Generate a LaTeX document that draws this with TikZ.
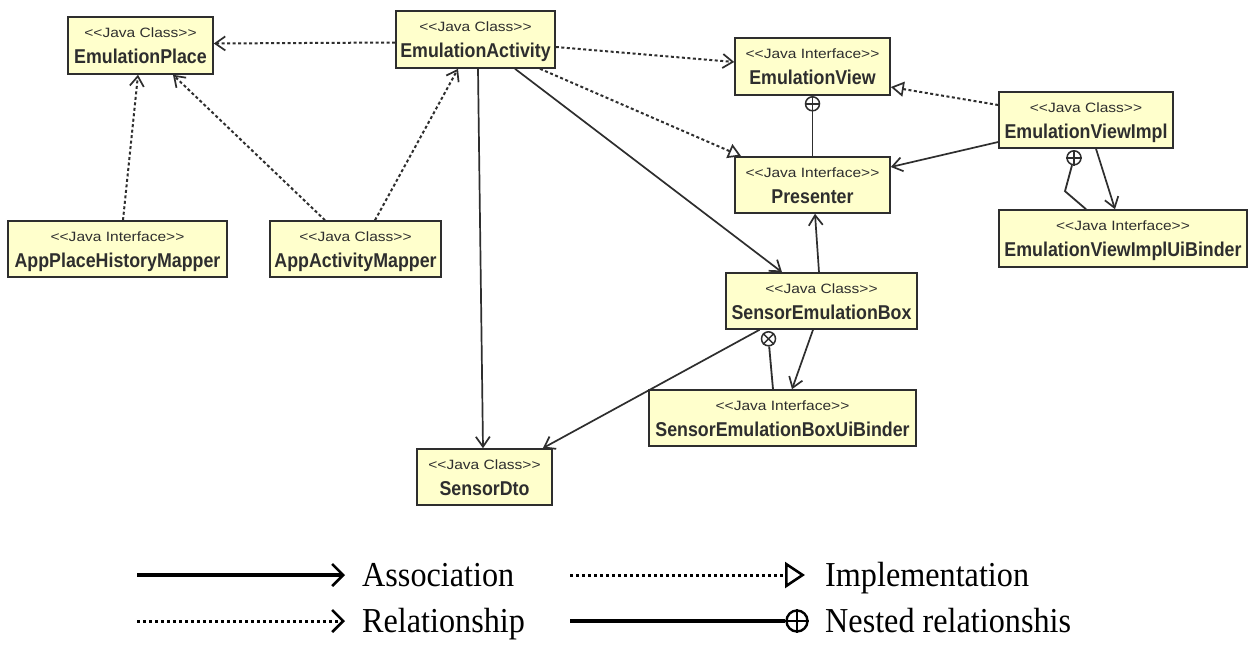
\documentclass[tikz,border=0pt]{standalone}
\usepackage{fontspec}
\setmainfont{Liberation Serif}
\newfontfamily\namefont{Liberation Sans}[FakeStretch=0.89]
\newfontfamily\stfont{Liberation Sans}[FakeStretch=1.15,Ligatures=TeXOff]
\newfontfamily\legfont{Liberation Serif}[FakeStretch=0.92]
\usetikzlibrary{arrows.meta,calc,fit}
\definecolor{boxfill}{HTML}{FFFFCC}
\definecolor{ink}{HTML}{2E2E2E}
\newcommand\umlnode[7]{%
  \path (#2,#3) coordinate (#1-a) (#4,#5) coordinate (#1-b);
  \node[umlbox, fit=(#1-a)(#1-b)] (#1) {};
  \node[stereo, anchor=base] (#1-s) at ($(#1.north)+(0,21)$) {#6};
  \node[title, anchor=base] (#1-t) at ($(#1.north)+(0,47)$) {#7};}
\begin{document}
\begin{tikzpicture}[x=1pt,y=-1pt,
  umlbox/.style={draw=ink, line width=1.6pt, fill=boxfill, inner sep=0pt},
  stereo/.style={font=\stfont\fontsize{13.5pt}{15pt}\selectfont, text=ink, inner sep=0pt},
  title/.style={font=\namefont\bfseries\fontsize{20pt}{22pt}\selectfont, text=ink, inner sep=0pt},
  assoc/.style={draw=ink, line width=1.7pt, -{Straight Barb[length=10pt,width=14pt]}},
  rel/.style={draw=ink, line width=2pt, dash pattern=on 3pt off 2.5pt, -{Straight Barb[length=10pt,width=14pt,line width=1.7pt]}},
  impl/.style={draw=ink, line width=2pt, dash pattern=on 3pt off 2.5pt, -{Triangle[open,length=13pt,width=15pt,fill=white,line width=1.7pt]}},
  nestline/.style={draw=ink, line width=1.8pt},
  nestsym/.style={circle, draw=ink, line width=1.5pt, fill=white, minimum size=14pt, inner sep=0pt},
  legtext/.style={font=\legfont\fontsize{35pt}{38pt}\selectfont, inner sep=0pt, anchor=base west},
  legassoc/.style={draw=black, line width=3.2pt, -{Straight Barb[length=11pt,width=22pt,line width=2.6pt]}},
  legrel/.style={draw=black, line width=3pt, dash pattern=on 3pt off 3pt, -{Straight Barb[length=11pt,width=22pt,line width=2.6pt]}},
  legimpl/.style={draw=black, line width=3pt, dash pattern=on 3pt off 3pt, -{Triangle[open,length=20pt,width=26pt,fill=white,line width=2.6pt]}},
  legnest/.style={draw=black, line width=3.2pt},
  legsym/.style={circle, draw=black, line width=2.4pt, fill=white, minimum size=21pt, inner sep=0pt}]
\useasboundingbox[fill=white] (0,0) rectangle (1256,664);

% classes
\umlnode{EP}{68}{17}{213}{74}{<<Java Class>>}{EmulationPlace}
\umlnode{EA}{396}{11}{555}{68}{<<Java Class>>}{EmulationActivity}
\umlnode{EV}{735}{38}{890}{95}{<<Java Interface>>}{EmulationView}
\umlnode{PR}{735}{157}{890}{213}{<<Java Interface>>}{Presenter}
\umlnode{EVI}{999}{92}{1173}{148}{<<Java Class>>}{EmulationViewImpl}
\umlnode{EVB}{999}{210}{1247}{267}{<<Java Interface>>}{EmulationViewImplUiBinder}
\umlnode{APH}{8}{221}{227}{277}{<<Java Interface>>}{AppPlaceHistoryMapper}
\umlnode{AAM}{270}{221}{441}{277}{<<Java Class>>}{AppActivityMapper}
\umlnode{SEB}{726}{273}{917}{329}{<<Java Class>>}{SensorEmulationBox}
\umlnode{SBB}{649}{390}{916}{446}{<<Java Interface>>}{SensorEmulationBoxUiBinder}
\umlnode{SD}{417}{449}{552}{505}{<<Java Class>>}{SensorDto}

% relationships (dotted)
\draw[rel] ($(EA.west)+(0,3)$) -- ($(EP.east)+(0,-2)$);
\draw[rel] ($(APH.north)+(5.5,0)$) -- ($(EP.south)+(-2.5,0)$);
\draw[rel] ($(AAM.north)+(-30.5,0)$) -- ($(EP.south)+(32.5,0)$);
\draw[rel] ($(AAM.north)+(19.5,0)$) -- ($(EA.south)+(-17.5,0)$);
\draw[rel] ($(EA.east)+(0,7.5)$) -- ($(EV.west)+(0,-4.5)$);

% implementations
\draw[impl] ($(EA.south)+(64.5,0)$) -- ($(PR.north west)+(7,0)$);
\draw[impl] ($(EVI.west)+(0,-15)$) -- ($(EV.east)+(0,20.5)$);

% associations
\draw[assoc] ($(EA.south)+(39.5,0)$) -- ($(SEB.north)+(-39.5,0)$);
\draw[assoc] ($(EA.south)+(2.5,0)$) -- ($(SD.north)+(-1.5,0)$);
\draw[assoc] ($(EVI.west)+(0,22)$) -- ($(PR.east)+(0,-18)$);
\draw[assoc] ($(EVI.south)+(10,0)$) -- ($(EVB.north)+(-8,0)$);
\draw[assoc] ($(SEB.north)+(-2.5,0)$) -- ($(PR.south)+(2.5,0)$);
\draw[assoc] ($(SEB.south)+(-8.5,0)$) -- ($(SBB.north)+(9.5,0)$);
\draw[assoc] ($(SEB.south)+(-62,0)$) -- ($(SD.north east)+(-10,0)$);

% nested
\node[nestsym] (n1) at ($(EV.south)+(0,8)$) {};
\draw[ink, line width=1.4pt] (n1.north) -- (n1.south) (n1.west) -- (n1.east);
\draw[nestline] (n1) -- (PR.north);
\node[nestsym] (n2) at ($(EVI.south)+(-12,9)$) {};
\draw[ink, line width=1.4pt] (n2.north) -- (n2.south) (n2.west) -- (n2.east);
\draw[nestline] (n2) -- ($(EVB.north)+(-58,-18)$) -- ($(EVB.north)+(-37,0)$);
\node[nestsym] (n3) at ($(SEB.south)+(-53,9)$) {};
\draw[ink, line width=1.4pt] (n3.45) -- (n3.225) (n3.135) -- (n3.315);
\draw[nestline] (n3) -- ($(SBB.north)+(-9.5,0)$);

% legend
\coordinate (la1) at (137,575); \coordinate (la2) at (345,575);
\draw[legassoc] (la1) -- (la2);
\node[legtext] (lt1) at (362,586) {Association};
\coordinate (li1) at (570,575); \coordinate (li2) at (805,575);
\draw[legimpl] (li1) -- (li2);
\node[legtext] (lt2) at (825,586) {Implementation};
\coordinate (lr1) at (137,621); \coordinate (lr2) at (345,621);
\draw[legrel] (lr1) -- (lr2);
\node[legtext] (lt3) at (362,632) {Relationship};
\coordinate (ln1) at (570,621);
\node[legsym] (ln2) at (797,621) {};
\draw[black, line width=2pt] (ln2.north) -- (ln2.south) (ln2.west) -- (ln2.east);
\draw[legnest] (ln1) -- (ln2);
\node[legtext] (lt4) at (825,632) {Nested relationshis};
\end{tikzpicture}
\end{document}
